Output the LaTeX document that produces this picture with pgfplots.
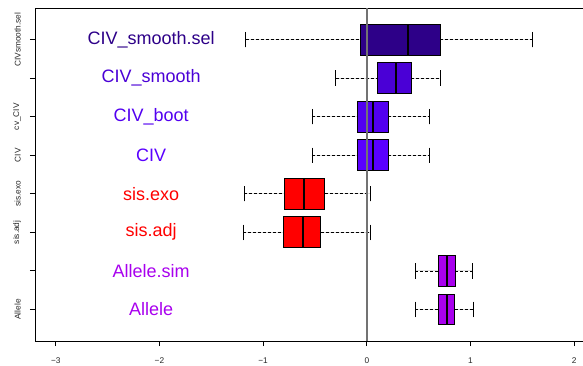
\documentclass[border=0pt]{standalone}
\usepackage{fontspec}
\setmainfont{Liberation Sans}
\usepackage{pgfplots}
\pgfplotsset{compat=1.18}
\usepgfplotslibrary{statistics}

\definecolor{cSel}{HTML}{2D0088}
\definecolor{cSmooth}{HTML}{4A00D6}
\definecolor{cBoot}{HTML}{5200F0}
\definecolor{cCIV}{HTML}{5A00FF}
\definecolor{cSis}{HTML}{FF0000}
\definecolor{cAllele}{HTML}{A800EE}

% whiskers: dashed stem, solid staple
\pgfplotsset{
  rbox/.style={
    boxplot/box extend=0.8,
    boxplot/whisker extend=0.4,
    boxplot/every box/.style={draw=black, line width=0.8bp},
    boxplot/every median/.style={draw=black, line width=2bp},
    boxplot/draw/lower whisker/.code={
      \draw[black, line width=0.7bp, dash pattern=on 3bp off 2bp]
        (boxplot box cs:\pgfplotsboxplotvalue{lower whisker},0.5) --
        (boxplot box cs:\pgfplotsboxplotvalue{lower quartile},0.5);
      \draw[black, line width=0.8bp]
        (boxplot whisker cs:\pgfplotsboxplotvalue{lower whisker},0) --
        (boxplot whisker cs:\pgfplotsboxplotvalue{lower whisker},1);
    },
    boxplot/draw/upper whisker/.code={
      \draw[black, line width=0.7bp, dash pattern=on 3bp off 2bp]
        (boxplot box cs:\pgfplotsboxplotvalue{upper quartile},0.5) --
        (boxplot box cs:\pgfplotsboxplotvalue{upper whisker},0.5);
      \draw[black, line width=0.8bp]
        (boxplot whisker cs:\pgfplotsboxplotvalue{upper whisker},0) --
        (boxplot whisker cs:\pgfplotsboxplotvalue{upper whisker},1);
    },
  }
}

\begin{document}
\begin{tikzpicture}
\useasboundingbox (0,0) rectangle (583bp,366bp);
\begin{axis}[
  at={(35bp,25bp)}, anchor=south west,
  scale only axis,
  width=548bp, height=333bp,
  xmin=-3.2, xmax=2.085,
  ymin=0.18, ymax=8.82,
  axis x line=box, axis y line=left,
  axis line style={black, line width=0.8bp, -},
  xtick={-3,-2,-1,0,1,2},
  xticklabels={−3,−2,−1,0,1,2},
  ytick={1,2,3,4,5,6,7,8},
  yticklabels={Allele,,sis.adj,sis.exo,CIV,cv\_CIV,,CIVsmooth.sel},
  xtick pos=bottom, ytick pos=left,
  tick align=outside,
  major tick length=5bp,
  tick style={black, line width=0.8bp},
  ticklabel style={font=\fontsize{8.3bp}{10bp}\selectfont, text=black!85},
  xticklabel style={yshift=-8bp},
  yticklabel style={rotate=90, anchor=south, inner sep=0pt, yshift=9bp},
  clip=false,
]
% Allele
\addplot[rbox, fill=cAllele, boxplot prepared={draw position=1,
  lower whisker=0.466, lower quartile=0.688, median=0.774,
  upper quartile=0.846, upper whisker=1.032}] coordinates {};
% Allele.sim
\addplot[rbox, fill=cAllele, boxplot prepared={draw position=2,
  lower whisker=0.466, lower quartile=0.694, median=0.774,
  upper quartile=0.852, upper whisker=1.015}] coordinates {};
% sis.adj
\addplot[rbox, fill=cSis, boxplot prepared={draw position=3,
  lower whisker=-1.19, lower quartile=-0.807, median=-0.617,
  upper quartile=-0.446, upper whisker=0.032}] coordinates {};
% sis.exo
\addplot[rbox, fill=cSis, boxplot prepared={draw position=4,
  lower whisker=-1.18, lower quartile=-0.79, median=-0.605,
  upper quartile=-0.405, upper whisker=0.032}] coordinates {};
% CIV
\addplot[rbox, fill=cCIV, boxplot prepared={draw position=5,
  lower whisker=-0.527, lower quartile=-0.093, median=0.061,
  upper quartile=0.209, upper whisker=0.60}] coordinates {};
% CIV_boot
\addplot[rbox, fill=cBoot, boxplot prepared={draw position=6,
  lower whisker=-0.527, lower quartile=-0.093, median=0.061,
  upper quartile=0.209, upper whisker=0.60}] coordinates {};
% CIV_smooth
\addplot[rbox, fill=cSmooth, boxplot prepared={draw position=7,
  lower whisker=-0.30, lower quartile=0.103, median=0.28,
  upper quartile=0.43, upper whisker=0.707}] coordinates {};
% CIV_smooth.sel
\addplot[rbox, fill=cSel, boxplot prepared={draw position=8,
  lower whisker=-1.167, lower quartile=-0.06, median=0.40,
  upper quartile=0.71, upper whisker=1.60}] coordinates {};

% reference line at zero
\addplot[black!55, line width=1.5bp] coordinates {(0,0.18) (0,8.82)};

% method names
\begin{scope}[every node/.style={font=\fontsize{18bp}{20bp}\selectfont, anchor=center, inner sep=0pt}]
\node[text=cSel]    at (axis cs:-2.08,8) {CIV\_smooth.sel};
\node[text=cSmooth] at (axis cs:-2.08,7) {CIV\_smooth};
\node[text=cBoot]   at (axis cs:-2.08,6) {CIV\_boot};
\node[text=cCIV]    at (axis cs:-2.08,5) {CIV};
\node[text=cSis]    at (axis cs:-2.08,4) {sis.exo};
\node[text=cSis]    at (axis cs:-2.08,3) {sis.adj};
\node[text=cAllele] at (axis cs:-2.08,2) {Allele.sim};
\node[text=cAllele] at (axis cs:-2.08,1) {Allele};
\end{scope}
\end{axis}
\end{tikzpicture}
\end{document}
